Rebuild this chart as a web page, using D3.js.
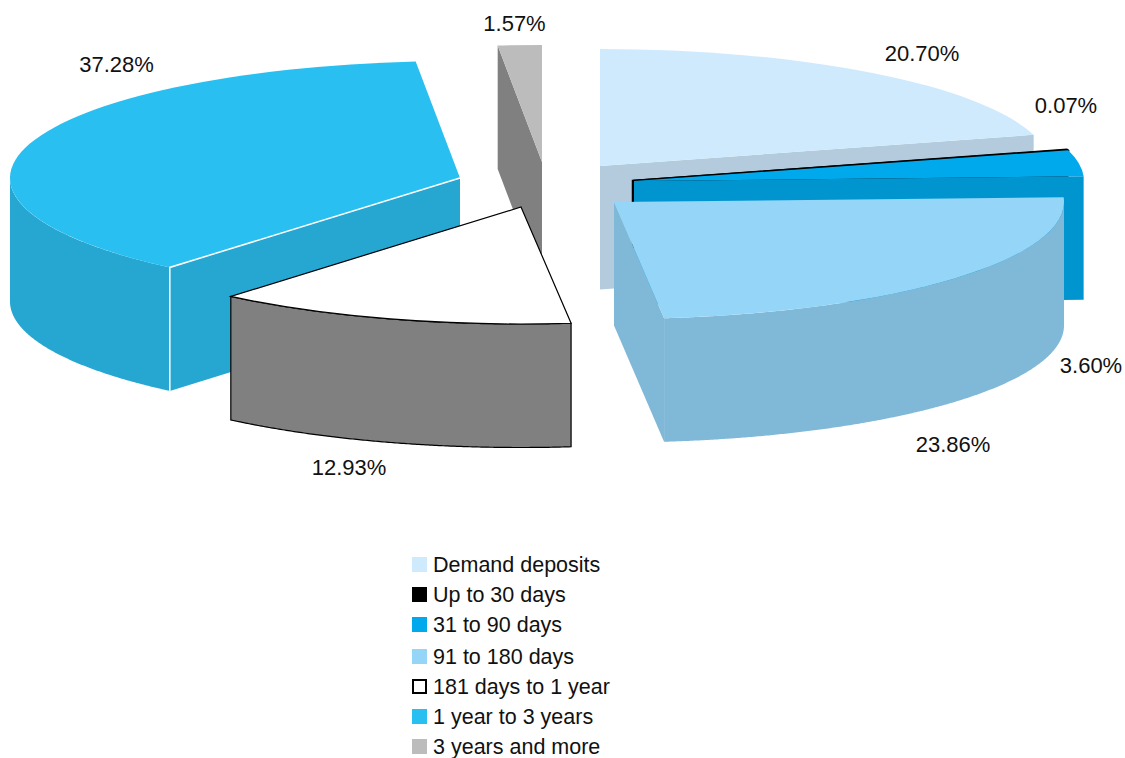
<!DOCTYPE html>
<html>

<head>
  <meta charset="utf-8">
  <title>Deposits by maturity</title>
  <style>
    html, body { margin: 0; padding: 0; background: #fff; }
    svg { display: block; }
    text { font-family: "Liberation Sans", Arial, sans-serif; fill: #111; }
  </style>
</head>

<body>
  <svg width="1125" height="758"></svg>
  <script src="https://cdn.jsdelivr.net/npm/d3@7"></script>
  <script>
  // 1. data
  var categories = ["Demand deposits", "Up to 30 days", "31 to 90 days", "91 to 180 days",
    "181 days to 1 year", "1 year to 3 years", "3 years and more"];
  var shares = [20.70, 0.07, 3.60, 23.86, 12.93, 37.28, 1.57];

  // 2. look of each slice
  var topColors = ["#cfeafd", "#000000", "#00a9ec", "#94d5f8", "#ffffff", "#29bff1", "#bcbcbc"];
  var wallColors = ["#b3cbdc", "#000000", "#0095cf", "#80b8d8", "#808080", "#26a7d2", "#808080"];
  var outlines = ["none", "#000", "none", "none", "#000", "none", "none"];
  var apexX = [600, 633, 634, 614, 521, 460, 542];
  var apexY = [166, 181, 181, 202, 207, 178, 162];
  var labelX = [922, 1066, 1091, 953, 349, 116.5, 514.5];
  var labelY = [61, 113, 373, 452, 475, 72, 31];
  var drawOrder = [0, 1, 2, 6, 5, 4, 3];

  var rx = 450, ry = 117, depth = 123.5;
  var svg = d3.select("svg");

  var slices = d3.pie().sort(null).value(function(d) { return d; })(shares);

  var arc = d3.arc().innerRadius(0).outerRadius(rx);

  var wallArea = d3.area()
    .x(function(a) { return Math.sin(a) * rx; })
    .y0(function(a) { return -Math.cos(a) * ry; })
    .y1(function(a) { return -Math.cos(a) * ry + depth; });

  var faceLine = d3.line();

  // cut face between the centre and the rim at angle a
  function face(a) {
    var x = Math.sin(a) * rx, y = -Math.cos(a) * ry;
    return faceLine([[0, 0], [x, y], [x, y + depth], [0, depth]]) + "Z";
  }

  // 3. slices back to front
  drawOrder.forEach(function(i) {
    var s = slices[i];
    var g = svg.append("g")
      .attr("transform", "translate(" + apexX[i] + "," + apexY[i] + ")");
    var stroke = outlines[i];
    var sw = i == 1 ? 2.5 : 1.2;

    // cut faces: a start edge shows only in the left half, an end edge only in the right half
    [s.startAngle, s.endAngle].forEach(function(a, k) {
      var visible = k == 0 ? Math.sin(a) < 0 : Math.sin(a) > 0;
      if (!visible) return;
      g.append("path")
        .attr("d", face(a))
        .attr("fill", wallColors[i])
        .attr("stroke", stroke)
        .attr("stroke-width", sw);
    });

    // rim, front half only
    var a0 = Math.max(s.startAngle, Math.PI / 2);
    var a1 = Math.min(s.endAngle, Math.PI * 3 / 2);
    if (a1 > a0) {
      var steps = d3.range(a0, a1, 0.005).concat([a1]);
      g.append("path")
        .attr("d", wallArea(steps))
        .attr("fill", wallColors[i])
        .attr("stroke", stroke)
        .attr("stroke-width", sw);
    }

    // top
    g.append("path")
      .attr("d", arc(s))
      .attr("transform", "scale(1," + (ry / rx) + ")")
      .attr("fill", topColors[i])
      .attr("stroke", stroke)
      .attr("stroke-width", sw)
      .attr("vector-effect", "non-scaling-stroke");

    // white seam on the big slice
    if (i == 5) {
      var seamX = Math.sin(s.startAngle) * rx, seamY = -Math.cos(s.startAngle) * ry;
      g.append("path")
        .attr("d", faceLine([[0, 0], [seamX, seamY], [seamX, seamY + depth]]))
        .attr("fill", "none")
        .attr("stroke", "#fff")
        .attr("stroke-width", 1.5);
    }
  });

  // 4. labels
  svg.selectAll("text.share")
    .data(shares)
    .enter()
    .append("text")
    .attr("class", "share")
    .attr("x", function(d, i) { return labelX[i]; })
    .attr("y", function(d, i) { return labelY[i]; })
    .attr("text-anchor", "middle")
    .style("font-size", "22px")
    .text(function(d) { return d.toFixed(2) + "%"; });

  // 5. legend
  var legendY = [557, 587, 617, 649, 679, 709, 739];
  var legend = svg.selectAll("g.legend")
    .data(categories)
    .enter()
    .append("g")
    .attr("class", "legend")
    .attr("transform", function(d, i) { return "translate(412," + legendY[i] + ")"; });

  legend.append("rect")
    .attr("x", function(d, i) { return i == 4 ? 1 : 0; })
    .attr("y", function(d, i) { return i == 4 ? 1 : 0; })
    .attr("width", function(d, i) { return i == 4 ? 13 : 15; })
    .attr("height", function(d, i) { return i == 4 ? 13 : 15; })
    .attr("fill", function(d, i) { return topColors[i]; })
    .attr("stroke", function(d, i) { return i == 4 ? "#000" : "none"; })
    .attr("stroke-width", 2);

  legend.append("text")
    .attr("x", 21)
    .attr("y", 15)
    .style("font-size", "21.5px")
    .text(function(d) { return d; });
  </script>
</body>

</html>
